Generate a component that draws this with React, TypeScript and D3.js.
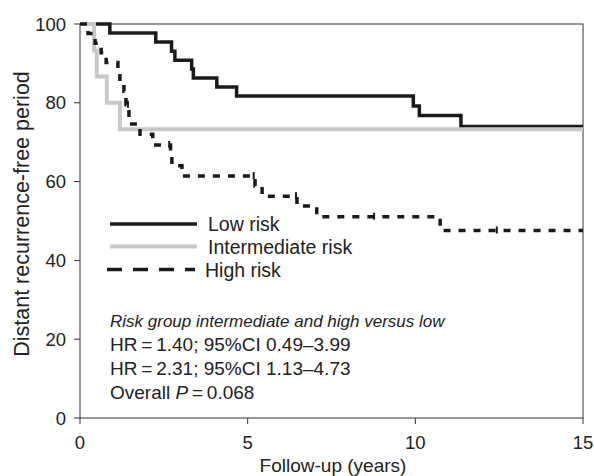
import React from "react";
import * as d3 from "d3";

// ---- data ----
const lowTimes = [0, 0.89, 2.26, 2.73, 2.83, 3.33, 3.38, 4.08, 4.67, 9.94, 10.12, 11.36];
const lowSurv = [100, 97.7, 95.4, 93.1, 90.8, 88.6, 86.3, 84.0, 81.7, 79.2, 76.8, 74.0];

const intTimes = [0, 0.42, 0.5, 0.8, 1.19];
const intSurv = [100, 93.3, 86.7, 80.0, 73.3];

const highTimes = [0, 0.24, 0.45, 0.63, 0.78, 1.13, 1.19, 1.31, 1.37, 1.46, 1.79, 2.17, 2.7, 2.74, 3.04, 5.22, 5.43, 6.47, 7.06, 10.74];
const highSurv = [100, 97.6, 95.1, 92.7, 90.2, 87.8, 85.4, 82.9, 79.5, 74.6, 72.0, 69.3, 66.7, 64.0, 61.4, 58.9, 56.3, 53.8, 51.1, 47.6];
const highCensor = [1.43, 2.66, 5.18, 6.44, 8.77, 12.43];

const xTicks = [0, 5, 10, 15];
const yTicks = [0, 20, 40, 60, 80, 100];
const endTime = 15;

const legendLabels = ["Low risk", "Intermediate risk", "High risk"];
const noteTitle = "Risk group intermediate and high versus low";
const noteLines = ["HR\u2009=\u20091.40; 95%CI 0.49\u20133.99", "HR\u2009=\u20092.31; 95%CI 1.13\u20134.73"];

const W = 594;
const H = 476;
const FONT = "'Liberation Sans', Arial, Helvetica, sans-serif";
const INK = "#222";

export default function App() {
  const x = d3.scaleLinear().domain([0, 15]).range([80, 583]);
  const y = d3.scaleLinear().domain([0, 100]).range([418, 24]);

  const stepPath = (times: number[], surv: number[]) => {
    const pts: [number, number][] = times.map((t, i) => [t, surv[i]]);
    pts.push([endTime, surv[surv.length - 1]]);
    return d3
      .line<[number, number]>()
      .x((d) => x(d[0]))
      .y((d) => y(d[1]))
      .curve(d3.curveStepAfter)(pts) as string;
  };

  const survAt = (times: number[], surv: number[], t: number) => {
    let v = surv[0];
    for (let i = 0; i < times.length; i++) if (times[i] <= t) v = surv[i];
    return v;
  };

  const fsTick = 18.5;
  const fsText = 19;
  const fsLegend = 19.5;
  const legendY = [224, 246.5, 269.5];
  const noteY = [327, 351, 375, 399];

  return (
    <svg
      width={W}
      height={H}
      style={{ position: "absolute", left: 0, top: 0, background: "#fff" }}
      fontFamily={FONT}
    >
      {/* frame */}
      <rect x={80} y={24} width={503} height={394} fill="none" stroke="#333" strokeWidth={1} />
      {/* y ticks */}
      {yTicks.map((v) => (
        <g key={"y" + v}>
          <line x1={74} x2={80} y1={y(v)} y2={y(v)} stroke="#333" strokeWidth={1} />
          <text x={66} y={y(v) + 6.5} textAnchor="end" fontSize={fsTick} fill={INK}>
            {v}
          </text>
        </g>
      ))}
      {/* x ticks */}
      {xTicks.map((v) => (
        <g key={"x" + v}>
          <line x1={x(v)} x2={x(v)} y1={418} y2={424} stroke="#333" strokeWidth={1} />
          <text x={x(v)} y={449} textAnchor="middle" fontSize={fsTick} fill={INK}>
            {v}
          </text>
        </g>
      ))}
      <text x={333} y={472} textAnchor="middle" fontSize={fsText} fill={INK}>
        Follow-up (years)
      </text>
      <text transform="translate(29,214) rotate(-90)" textAnchor="middle" fontSize={21.5} fill={INK}>
        Distant recurrence-free period
      </text>

      {/* curves */}
      <path d={stepPath(lowTimes, lowSurv)} fill="none" stroke="#1a1a1a" strokeWidth={3.5} />
      <path d={stepPath(intTimes, intSurv)} fill="none" stroke="#c8c8c8" strokeWidth={4} />
      <path
        d={stepPath(highTimes, highSurv)}
        fill="none"
        stroke="#1a1a1a"
        strokeWidth={3.5}
        strokeDasharray="7,8"
      />
      {highCensor.map((t) => (
        <line
          key={"c" + t}
          x1={x(t)}
          x2={x(t)}
          y1={y(survAt(highTimes, highSurv, t)) - 4}
          y2={y(survAt(highTimes, highSurv, t)) + 3}
          stroke="#1a1a1a"
          strokeWidth={2}
        />
      ))}

      {/* legend */}
      <line x1={110} x2={197} y1={legendY[0]} y2={legendY[0]} stroke="#1a1a1a" strokeWidth={3.5} />
      <line x1={110} x2={197} y1={legendY[1]} y2={legendY[1]} stroke="#c8c8c8" strokeWidth={4} />
      <line
        x1={107}
        x2={195}
        y1={legendY[2]}
        y2={legendY[2]}
        stroke="#1a1a1a"
        strokeWidth={3.5}
        strokeDasharray="15,11"
      />
      {legendLabels.map((l, i) => (
        <text key={l} x={i === 2 ? 205 : 208} y={legendY[i] + 7} fontSize={fsLegend} fill={INK}>
          {l}
        </text>
      ))}

      {/* annotation */}
      <text x={110} y={noteY[0]} fontSize={17} fontStyle="italic" fill={INK}>
        {noteTitle}
      </text>
      {noteLines.map((l, i) => (
        <text key={l} x={110} y={noteY[i + 1]} fontSize={fsText} fill={INK}>
          {l}
        </text>
      ))}
      <text x={110} y={noteY[3]} fontSize={fsText} fill={INK}>
        Overall <tspan fontStyle="italic">P</tspan>
        {"\u2009=\u20090.068"}
      </text>
    </svg>
  );
}
